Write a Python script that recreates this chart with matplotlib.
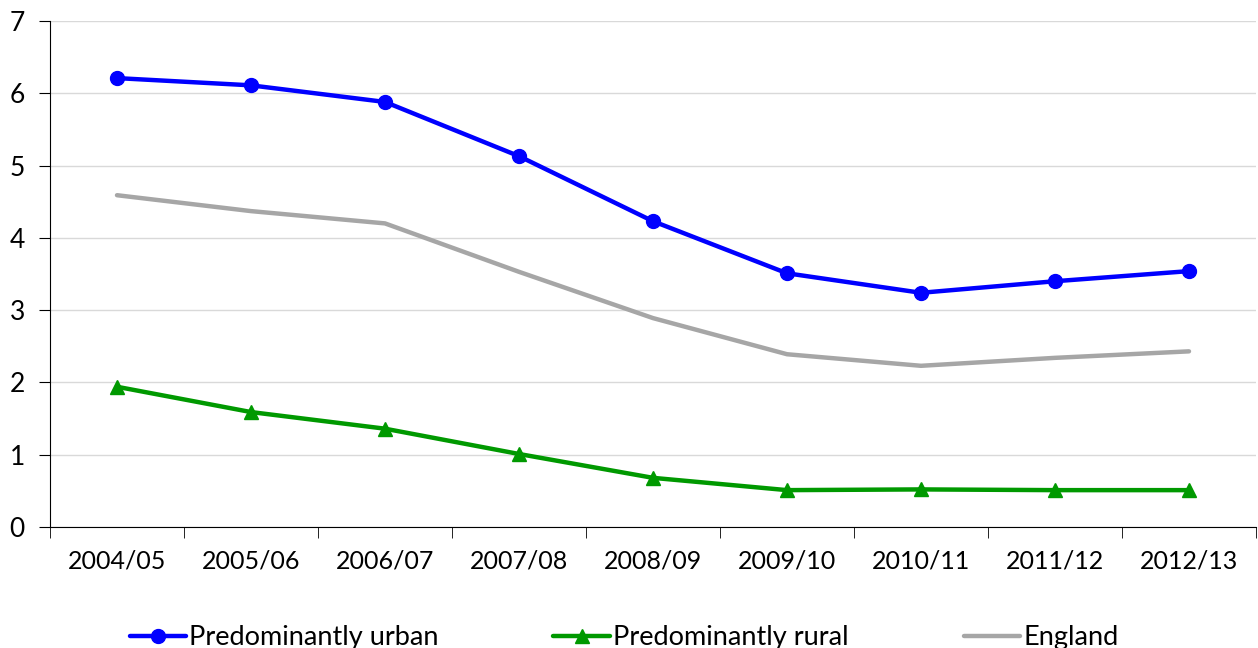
import matplotlib.pyplot as plt
import numpy as np

years = ['2004/05', '2005/06', '2006/07', '2007/08', '2008/09',
         '2009/10', '2010/11', '2011/12', '2012/13']
urban = [6.21, 6.11, 5.88, 5.13, 4.23, 3.51, 3.24, 3.40, 3.54]
rural = [1.94, 1.59, 1.36, 1.01, 0.68, 0.51, 0.52, 0.51, 0.51]
england = [4.59, 4.37, 4.20, 3.53, 2.89, 2.39, 2.23, 2.34, 2.43]

plt.rcParams['font.family'] = ['Lato', 'DejaVu Sans']

fig = plt.figure(figsize=(12.58, 6.48), dpi=100)
ax = fig.add_axes([50 / 1258, 121 / 648, 1206 / 1258, 506 / 648])

x = np.arange(len(years))
ax.plot(x, urban, color='#0000FF', lw=3.2, marker='o', ms=10,
        label='Predominantly urban', solid_capstyle='round')
ax.plot(x, rural, color='#009900', lw=3.2, marker='^', ms=10,
        label='Predominantly rural', solid_capstyle='round')
ax.plot(x, england, color='#A6A6A6', lw=3.2,
        label='England', solid_capstyle='round')

ax.set_xlim(-0.5, len(years) - 0.5)
ax.set_ylim(0, 7)
ax.set_yticks(range(0, 8))
ax.set_xticks(x)
ax.set_xticklabels(years)
ax.set_xticks(np.arange(-0.5, len(years)), minor=True)
ax.tick_params(axis='x', which='major', length=0, pad=16, labelsize=18)
ax.tick_params(axis='x', which='minor', length=8, direction='out', color='black')
ax.tick_params(axis='y', length=8, direction='out', labelsize=19, pad=10)

ax.grid(axis='y', color='#d9d9d9', lw=1)
ax.set_axisbelow(True)
for s in ['top', 'right']:
    ax.spines[s].set_visible(False)
ax.spines['left'].set_color('black')
ax.spines['bottom'].set_color('black')

fig.legend(loc='lower center', bbox_to_anchor=(0.496, -0.041), ncol=3,
           frameon=False, fontsize=19.5, handlelength=2.1, handletextpad=0.1,
           columnspacing=4.24)

fig.savefig('out.png', dpi=100)
